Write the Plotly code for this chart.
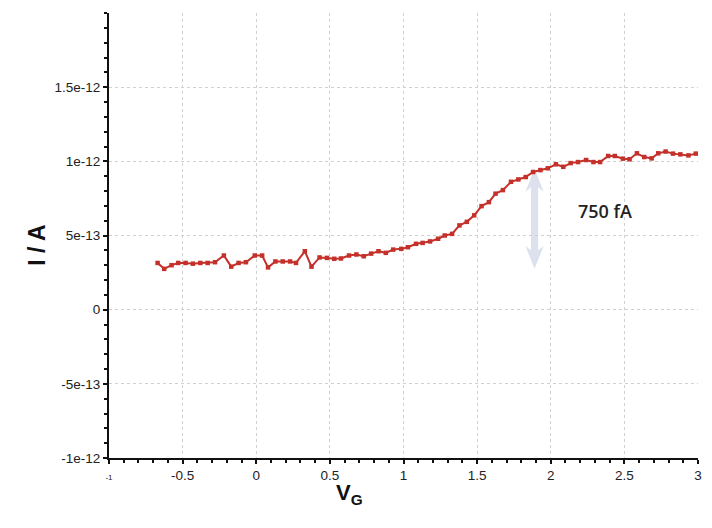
import plotly.graph_objects as go

# Gate voltage (V) and current (units of 1e-12 A)
vg = [-0.67, -0.625, -0.575, -0.53, -0.48, -0.43, -0.38, -0.33, -0.28, -0.22,
      -0.17, -0.12, -0.07, -0.01, 0.04, 0.08, 0.13, 0.18, 0.23, 0.27,
      0.33, 0.375, 0.43, 0.48, 0.53, 0.575, 0.63, 0.68, 0.73, 0.78,
      0.83, 0.88, 0.93, 0.985, 1.03, 1.085, 1.13, 1.18, 1.235, 1.28,
      1.33, 1.38, 1.43, 1.48, 1.53, 1.58, 1.625, 1.675, 1.73, 1.78,
      1.83, 1.88, 1.93, 1.98, 2.035, 2.085, 2.135, 2.185, 2.24, 2.29,
      2.335, 2.39, 2.435, 2.49, 2.535, 2.585, 2.635, 2.685, 2.73, 2.78,
      2.83, 2.88, 2.935, 2.985]
current_pA = [0.315, 0.275, 0.30, 0.315, 0.315, 0.31, 0.315, 0.315, 0.32, 0.365,
              0.29, 0.315, 0.32, 0.365, 0.365, 0.285, 0.325, 0.325, 0.325, 0.315,
              0.394, 0.29, 0.352, 0.349, 0.343, 0.345, 0.365, 0.372, 0.36, 0.378,
              0.394, 0.383, 0.405, 0.41, 0.421, 0.444, 0.45, 0.46, 0.478, 0.5,
              0.511, 0.568, 0.592, 0.636, 0.698, 0.725, 0.782, 0.806, 0.862, 0.878,
              0.894, 0.928, 0.941, 0.953, 0.98, 0.963, 0.988, 0.995, 1.009, 0.995,
              0.995, 1.036, 1.036, 1.018, 1.014, 1.054, 1.029, 1.02, 1.054, 1.066,
              1.052, 1.047, 1.04, 1.052]
current = [c * 1e-12 for c in current_pA]

x_tickvals = [-1, -0.5, 0, 0.5, 1, 1.5, 2, 2.5, 3]
x_ticktext = ["<span style='font-size:8px'>-1</span>", "-0.5", "0", "0.5", "1",
              "1.5", "2", "2.5", "3"]
y_tickvals = [-1e-12, -5e-13, 0, 5e-13, 1e-12, 1.5e-12]
y_ticktext = ["-1e-12", "-5e-13", "0", "5e-13", "1e-12", "1.5e-12"]

annotation_text = "750 fA"

fig = go.Figure()
fig.add_trace(go.Scatter(
    x=vg, y=current, mode="lines+markers",
    line=dict(color="#c4312a", width=2),
    marker=dict(symbol="square", size=4.5, color="#c4312a"),
    showlegend=False, hoverinfo="skip",
))

# double-headed arrow (decoration)
ax = 1.89
top, bot = 0.95e-12, 0.275e-12
sw, hw, hl = 0.024, 0.062, 0.155e-12
path = (f"M {ax} {top} L {ax+hw} {top-hl} L {ax+sw} {top-hl+0.03e-12} "
        f"L {ax+sw} {bot+hl-0.03e-12} L {ax+hw} {bot+hl} L {ax} {bot} "
        f"L {ax-hw} {bot+hl} L {ax-sw} {bot+hl-0.03e-12} L {ax-sw} {top-hl+0.03e-12} "
        f"L {ax-hw} {top-hl} Z")
fig.add_shape(type="path", path=path, xref="x", yref="y",
              fillcolor="#dde1ee", line=dict(width=0), layer="below")

fig.add_annotation(x=2.37, y=0.662e-12, xref="x", yref="y", text=annotation_text,
                   showarrow=False,
                   font=dict(size=18, color="#222222", family="Open Sans", weight=600))

# axis titles
fig.add_annotation(x=-0.148, y=0.479, xref="paper", yref="paper", text="<b>I / A</b>",
                   showarrow=False, textangle=-90,
                   font=dict(size=23, color="#111111", family="Liberation Sans"))
fig.add_annotation(x=0.409, y=-0.117, xref="paper", yref="paper",
                   text="<b>V<sub>G</sub></b>", showarrow=False,
                   font=dict(size=22, color="#111111", family="Liberation Sans"))

tickfont = dict(size=13.5, color="#222222", family="Liberation Sans")
fig.update_xaxes(
    range=[-1, 3], tickvals=x_tickvals, ticktext=x_ticktext,
    showline=True, linecolor="#111111", linewidth=2,
    ticks="outside", ticklen=4, tickwidth=1.5, tickcolor="#111111",
    minor=dict(dtick=0.1, ticks="outside", ticklen=3, tickwidth=1.5, tickcolor="#111111",
               showgrid=False),
    showgrid=True, gridcolor="#d0d0d0", griddash="dot", gridwidth=1,
    zeroline=False, tickfont=tickfont,
)
fig.update_yaxes(
    range=[-1e-12, 2e-12], tickvals=y_tickvals, ticktext=y_ticktext,
    showline=True, linecolor="#111111", linewidth=2,
    ticks="outside", ticklen=4, tickwidth=1.5, tickcolor="#111111",
    minor=dict(dtick=1e-13, ticks="outside", ticklen=3, tickwidth=1.5, tickcolor="#111111",
               showgrid=False),
    showgrid=True, gridcolor="#d0d0d0", griddash="dot", gridwidth=1,
    zeroline=False, tickfont=tickfont,
)

# page body adds an 8px margin, so the figure is 8px smaller and offset
fig.update_layout(
    width=704, height=520,
    margin=dict(l=101, r=14, t=5, b=70),
    paper_bgcolor="white", plot_bgcolor="white",
    font=dict(family="Liberation Sans"),
)

fig.write_html("out.html")
